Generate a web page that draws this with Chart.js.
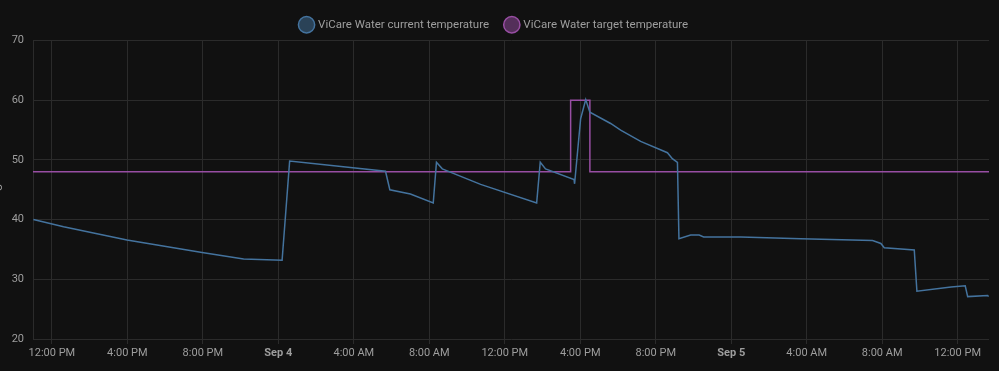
<!DOCTYPE html>
<html>
<head>
<meta charset="utf-8">
<script src="https://cdn.jsdelivr.net/npm/chart.js@4/dist/chart.umd.min.js"></script>
<style>
  html, body { margin: 0; padding: 0; background: #111111; }
  #wrap { width: 999px; height: 371px; }
</style>
</head>
<body>
<div id="wrap"><canvas id="myChart"></canvas></div>
<script>
// hours since Sep 3 00:00
var currentHours = [11.02, 12.62, 15.98, 19.96, 22.16, 24.20, 24.60, 29.68, 29.91, 31.00,
  32.21, 32.38, 32.69, 34.72, 37.69, 37.88, 38.16, 39.67, 39.70, 40.02,
  40.29, 40.51, 41.61, 42.14, 43.20, 44.62, 44.88, 45.15, 45.23, 45.85,
  46.30, 46.54, 48.51, 51.69, 55.49, 55.93, 56.11, 57.70, 57.84, 59.65,
  60.40, 60.53, 61.59, 61.64];
var currentTemp = [40.0, 38.8, 36.6, 34.5, 33.4, 33.2, 49.8, 48.1, 45.0, 44.3,
  42.8, 49.6, 48.5, 45.9, 42.8, 49.6, 48.5, 46.7, 46.0, 56.9,
  60.1, 58.0, 56.1, 55.0, 53.1, 51.2, 50.2, 49.6, 36.8, 37.4,
  37.4, 37.1, 37.1, 36.8, 36.5, 36.0, 35.3, 34.9, 28.0, 28.7,
  28.9, 27.1, 27.3, 27.1];

var targetHours = [11.0, 39.49, 40.51, 61.66];
var targetTemp = [48, 60, 48, 48];

var tickHours = [12, 16, 20, 24, 28, 32, 36, 40, 44, 48, 52, 56, 60];
var tickLabels = ['12:00 PM', '4:00 PM', '8:00 PM', 'Sep 4', '4:00 AM', '8:00 AM', '12:00 PM',
  '4:00 PM', '8:00 PM', 'Sep 5', '4:00 AM', '8:00 AM', '12:00 PM'];

function toPoints(xs, ys) {
  return xs.map(function (x, i) { return { x: x, y: ys[i] }; });
}

Chart.defaults.font.family = 'Roboto, "Noto Sans", sans-serif';
Chart.defaults.color = '#9e9e9e';

var ctx = document.getElementById('myChart').getContext('2d');
var myChart = new Chart(ctx, {
    type: 'line',
    data: {
        datasets: [{
            label: 'ViCare Water current temperature',
            data: toPoints(currentHours, currentTemp),
            borderColor: '#44739e',
            backgroundColor: 'rgba(68, 115, 158, 0.5)',
            borderWidth: 1.5,
            pointRadius: 0,
            tension: 0
        }, {
            label: 'ViCare Water target temperature',
            data: toPoints(targetHours, targetTemp),
            borderColor: '#984ea3',
            backgroundColor: 'rgba(152, 78, 163, 0.5)',
            borderWidth: 1.5,
            pointRadius: 0,
            stepped: 'before'
        }]
    },
    options: {
        responsive: true,
        maintainAspectRatio: false,
        animation: false,
        layout: { padding: { left: 0, right: 10, top: 2, bottom: 0 } },
        plugins: {
            legend: {
                labels: {
                    usePointStyle: true,
                    pointStyle: 'circle',
                    boxWidth: 12,
                    boxHeight: 12,
                    padding: 17,
                    color: '#9e9e9e',
                    font: { size: 11.5 }
                }
            },
            tooltip: { enabled: false }
        },
        scales: {
            x: {
                type: 'linear',
                min: 11,
                max: 61.66,
                afterBuildTicks: function (scale) {
                    scale.ticks = tickHours.map(function (h) { return { value: h }; });
                },
                afterFit: function (scale) { scale.height = 32; },
                grid: { color: '#2b2b2b', tickLength: 5, tickColor: '#2b2b2b' },
                border: { display: false },
                ticks: {
                    autoSkip: false,
                    maxRotation: 0,
                    padding: 3,
                    color: '#9e9e9e',
                    font: function (c) {
                        var isDay = c.tick && c.tick.value % 24 === 0;
                        return { size: 11, weight: isDay ? 'bold' : 'normal' };
                    },
                    callback: function (value) {
                        var i = tickHours.indexOf(value);
                        return i >= 0 ? tickLabels[i] : '';
                    }
                }
            },
            y: {
                min: 20,
                max: 70,
                afterFit: function (scale) { scale.width = 33; },
                grid: { color: '#2b2b2b', drawTicks: false },
                border: { color: '#2b2b2b' },
                title: {
                    display: true,
                    text: '°C',
                    color: '#9e9e9e',
                    font: { size: 11 },
                    padding: { top: -7, bottom: 0 }
                },
                ticks: {
                    stepSize: 10,
                    padding: 9,
                    color: '#9e9e9e',
                    font: { size: 11 }
                }
            }
        }
    }
});
</script>
</body>
</html>
